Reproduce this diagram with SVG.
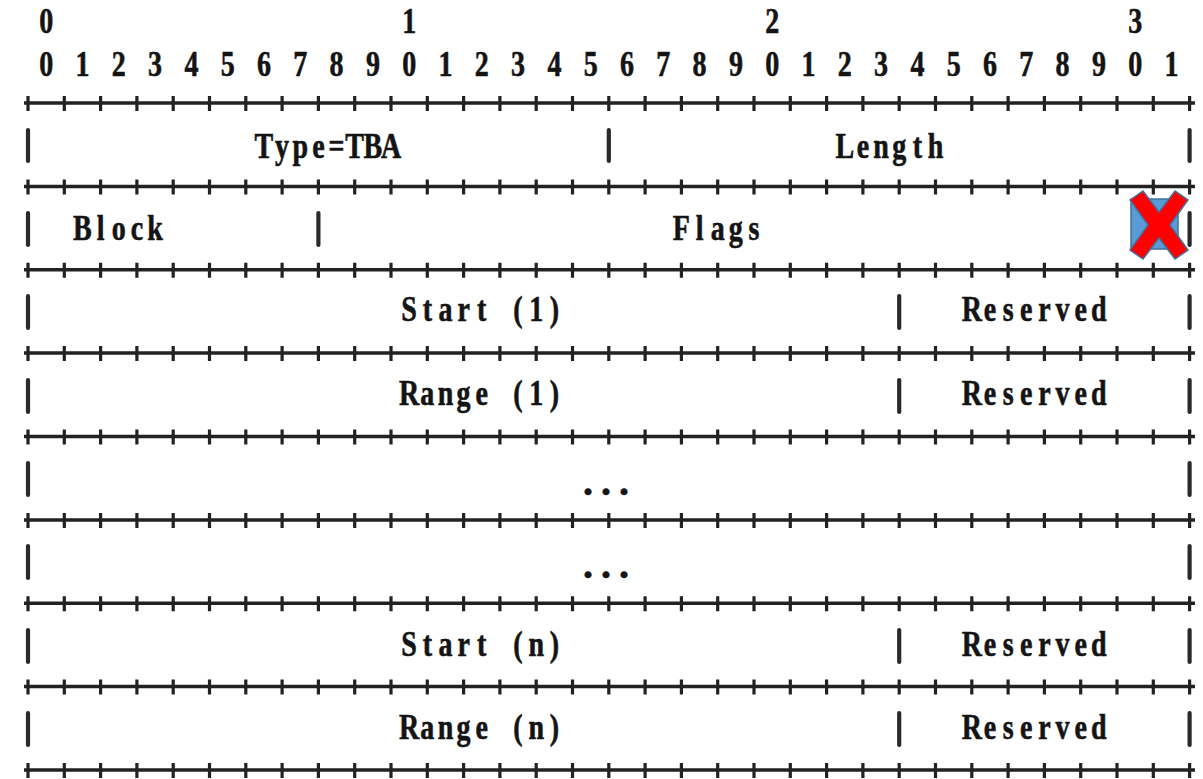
<svg xmlns="http://www.w3.org/2000/svg" width="1203" height="779" viewBox="0 0 1203 779">
<style>
text{font-family:"Liberation Serif","DejaVu Serif",serif;font-weight:bold;font-size:35px;fill:#141414;text-anchor:middle;stroke:#141414;stroke-width:0.6}
.ln{stroke:#222;stroke-width:3.5;fill:none}
.tk{stroke:#222;stroke-width:3.2;fill:none}
.bar{stroke:#2a2a2a;stroke-width:4.2;stroke-linecap:round}
</style>
<defs>
<g id="sep">
<line class="ln" x1="24" y1="0" x2="1195" y2="0"/>
<path class="tk" d="M28 -7v15M64.3 -7v15M100.6 -7v15M136.9 -7v15M173.2 -7v15M209.5 -7v15M245.8 -7v15M282.1 -7v15M318.4 -7v15M354.7 -7v15M391 -7v15M427.3 -7v15M463.6 -7v15M499.9 -7v15M536.2 -7v15M572.5 -7v15M608.8 -7v15M645.1 -7v15M681.4 -7v15M717.7 -7v15M754 -7v15M790.3 -7v15M826.6 -7v15M862.9 -7v15M899.2 -7v15M935.5 -7v15M971.8 -7v15M1008.1 -7v15M1044.4 -7v15M1080.7 -7v15M1117 -7v15M1153.3 -7v15M1189.6 -7v15"/>
</g>
</defs>
<rect width="1203" height="779" fill="#fff"/>
<g id="header" transform="scale(0.8 1)">
<text x="57.75 511.5 965.25 1419" y="33">0123</text>
<text x="57.75 103.13 148.5 193.88 239.25 284.63 330 375.38 420.75 466.13 511.5 556.88 602.25 647.63 693 738.38 783.75 829.13 874.5 919.88 965.25 1010.63 1056 1101.38 1146.75 1192.13 1237.5 1282.88 1328.25 1373.63 1419 1464.38" y="76">01234567890123456789012345678901</text>
</g>
<g id="connectors">
<use href="#sep" y="103"/>
<use href="#sep" y="186.4"/>
<use href="#sep" y="269.8"/>
<use href="#sep" y="353.1"/>
<use href="#sep" y="436.5"/>
<use href="#sep" y="519.9"/>
<use href="#sep" y="603.3"/>
<use href="#sep" y="686.6"/>
<use href="#sep" y="770"/>
</g>
<g id="row-type-length">
<line class="bar" x1="28" y1="130" x2="28" y2="161"/>
<line class="bar" x1="608.8" y1="130" x2="608.8" y2="161"/>
<line class="bar" x1="1189.6" y1="130" x2="1189.6" y2="161"/>
<text transform="scale(0.8 1)" x="329.94 352.63 375.31 398 420.69 443.38 466.06 488.75" y="158">Type=TBA</text>
<text transform="scale(0.8 1)" x="1055.94 1078.63 1101.31 1124 1146.69 1169.38" y="158">Length</text>
</g>
<g id="row-block-flags">
<line class="bar" x1="28" y1="213" x2="28" y2="245"/>
<line class="bar" x1="318.4" y1="213" x2="318.4" y2="245"/>
<text transform="scale(0.8 1)" x="103.06 125.75 148.44 171.13 193.81" y="240">Block</text>
<text transform="scale(0.8 1)" x="851.75 874.44 897.13 919.81 942.5" y="240">Flags</text>
<rect x="1131" y="199" width="47" height="50" fill="#5b9bd5" stroke="#41719c" stroke-width="1.5"/>
<polygon points="1130,200 1143,191 1159,212 1175,191 1188,200 1170,225 1188,250 1175,259 1159,238 1143,259 1130,250 1148,225" fill="#ff0000" stroke="#41719c" stroke-width="1.5"/>
<line class="bar" x1="1189.6" y1="213" x2="1189.6" y2="245"/>
</g>
<g id="row-start-1">
<line class="bar" x1="28" y1="296" x2="28" y2="328"/>
<line class="bar" x1="899.2" y1="296" x2="899.2" y2="328"/>
<line class="bar" x1="1189.6" y1="296" x2="1189.6" y2="328"/>
<text transform="scale(0.8 1)" x="511.44 534.13 556.81 579.5 602.19 647.56 670.25 692.94" y="321">Start(1)</text>
<text transform="scale(0.8 1)" x="1214.75 1237.44 1260.13 1282.81 1305.5 1328.19 1350.88 1373.56" y="321">Reserved</text>
</g>
<g id="row-range-1">
<line class="bar" x1="28" y1="380" x2="28" y2="412"/>
<line class="bar" x1="899.2" y1="380" x2="899.2" y2="412"/>
<line class="bar" x1="1189.6" y1="380" x2="1189.6" y2="412"/>
<text transform="scale(0.8 1)" x="511.44 534.13 556.81 579.5 602.19 647.56 670.25 692.94" y="405">Range(1)</text>
<text transform="scale(0.8 1)" x="1214.75 1237.44 1260.13 1282.81 1305.5 1328.19 1350.88 1373.56" y="405">Reserved</text>
</g>
<g id="row-ellipsis-1">
<line class="bar" x1="28" y1="463" x2="28" y2="495"/>
<line class="bar" x1="1189.6" y1="463" x2="1189.6" y2="495"/>
<text x="588 606 624" y="495" style="font-size:40px">...</text>
</g>
<g id="row-ellipsis-2">
<line class="bar" x1="28" y1="546" x2="28" y2="578"/>
<line class="bar" x1="1189.6" y1="546" x2="1189.6" y2="578"/>
<text x="588 606 624" y="578" style="font-size:40px">...</text>
</g>
<g id="row-start-n">
<line class="bar" x1="28" y1="630" x2="28" y2="662"/>
<line class="bar" x1="899.2" y1="630" x2="899.2" y2="662"/>
<line class="bar" x1="1189.6" y1="630" x2="1189.6" y2="662"/>
<text transform="scale(0.8 1)" x="511.44 534.13 556.81 579.5 602.19 647.56 670.25 692.94" y="656">Start(n)</text>
<text transform="scale(0.8 1)" x="1214.75 1237.44 1260.13 1282.81 1305.5 1328.19 1350.88 1373.56" y="656">Reserved</text>
</g>
<g id="row-range-n">
<line class="bar" x1="28" y1="713" x2="28" y2="745"/>
<line class="bar" x1="899.2" y1="713" x2="899.2" y2="745"/>
<line class="bar" x1="1189.6" y1="713" x2="1189.6" y2="745"/>
<text transform="scale(0.8 1)" x="511.44 534.13 556.81 579.5 602.19 647.56 670.25 692.94" y="739">Range(n)</text>
<text transform="scale(0.8 1)" x="1214.75 1237.44 1260.13 1282.81 1305.5 1328.19 1350.88 1373.56" y="739">Reserved</text>
</g>
</svg>
